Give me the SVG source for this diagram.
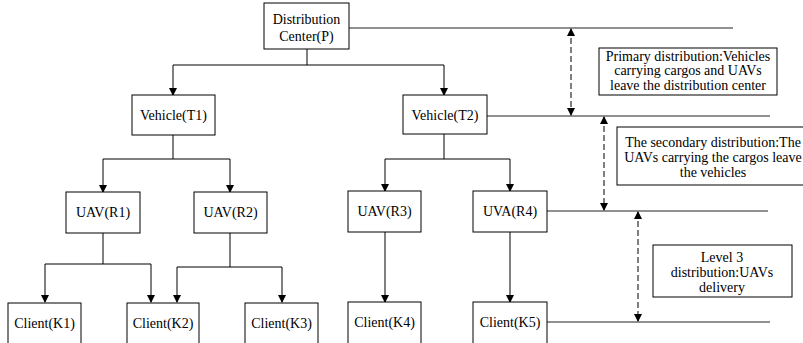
<svg xmlns="http://www.w3.org/2000/svg" width="803" height="343" viewBox="0 0 803 343">
<style>
.box{fill:#fff;stroke:#000;stroke-width:1}
.t{font-family:'Liberation Serif','DejaVu Serif',serif;font-size:14px;fill:#000;text-anchor:middle}
.c{fill:none;stroke:#000;stroke-width:1}
.lv{fill:none;stroke:#222;stroke-width:1}
.d{fill:none;stroke:#000;stroke-width:1;stroke-dasharray:6,3}
</style>
<defs>
<marker id="ah" markerWidth="8" markerHeight="8" refX="7" refY="4" orient="auto" markerUnits="userSpaceOnUse">
<path d="M0,0 L8,4 L0,8 Z" fill="#000"/>
</marker>
<marker id="as" markerWidth="8" markerHeight="8" refX="1" refY="4" orient="auto" markerUnits="userSpaceOnUse">
<path d="M8,0 L0,4 L8,8 Z" fill="#000"/>
</marker>
</defs>
<g id="connectors">
<path class="c" d="M307,49 V65"/>
<path class="c" d="M173,65 H444"/>
<path class="c" d="M173,65 V95" marker-end="url(#ah)"/>
<path class="c" d="M444,65 V95" marker-end="url(#ah)"/>
<path class="c" d="M173,135 V159 M103,159 H230"/>
<path class="c" d="M103,159 V192" marker-end="url(#ah)"/>
<path class="c" d="M230,159 V192" marker-end="url(#ah)"/>
<path class="c" d="M444,134 V159 M385,159 H510"/>
<path class="c" d="M385,159 V191" marker-end="url(#ah)"/>
<path class="c" d="M510,159 V191" marker-end="url(#ah)"/>
<path class="c" d="M103,233 V264 M45,264 H151"/>
<path class="c" d="M45,264 V302" marker-end="url(#ah)"/>
<path class="c" d="M151,264 V302" marker-end="url(#ah)"/>
<path class="c" d="M230,233 V267 M177,267 H282"/>
<path class="c" d="M177,267 V302" marker-end="url(#ah)"/>
<path class="c" d="M282,267 V302" marker-end="url(#ah)"/>
<path class="c" d="M385,232 V302" marker-end="url(#ah)"/>
<path class="c" d="M510,232 V302" marker-end="url(#ah)"/>
<path class="lv" d="M349,28 H733"/>
<path class="lv" d="M487,116 H770"/>
<path class="lv" d="M547,211 H768"/>
<path class="lv" d="M547,322 H770"/>
<path class="d" d="M571,29 V115" marker-start="url(#as)" marker-end="url(#ah)"/>
<path class="d" d="M604,117 V210" marker-start="url(#as)" marker-end="url(#ah)"/>
<path class="d" d="M638,212 V321" marker-start="url(#as)" marker-end="url(#ah)"/>
</g>
<g id="P"><rect class="box" x="264" y="3" width="85" height="46"/><text class="t" x="306.5" y="24">Distribution</text><text class="t" x="306.5" y="41">Center(P)</text></g>
<g id="T1"><rect class="box" x="132" y="95" width="83" height="40"/><text class="t" x="173.5" y="120">Vehicle(T1)</text></g>
<g id="T2"><rect class="box" x="403" y="95" width="84" height="39"/><text class="t" x="445" y="120">Vehicle(T2)</text></g>
<g id="R1"><rect class="box" x="66" y="192" width="74" height="41"/><text class="t" x="103" y="217">UAV(R1)</text></g>
<g id="R2"><rect class="box" x="194" y="192" width="73" height="41"/><text class="t" x="230.5" y="217">UAV(R2)</text></g>
<g id="R3"><rect class="box" x="348" y="191" width="73" height="41"/><text class="t" x="384.5" y="216">UAV(R3)</text></g>
<g id="R4"><rect class="box" x="473" y="191" width="74" height="41"/><text class="t" x="510" y="216">UVA(R4)</text></g>
<g id="K1"><rect class="box" x="8" y="303" width="73" height="45"/><text class="t" x="44.5" y="328">Client(K1)</text></g>
<g id="K2"><rect class="box" x="127" y="303" width="72" height="45"/><text class="t" x="163" y="328">Client(K2)</text></g>
<g id="K3"><rect class="box" x="245" y="303" width="73" height="45"/><text class="t" x="281.5" y="328">Client(K3)</text></g>
<g id="K4"><rect class="box" x="348" y="302" width="73" height="46"/><text class="t" x="384.5" y="327">Client(K4)</text></g>
<g id="K5"><rect class="box" x="473" y="302" width="74" height="46"/><text class="t" x="510" y="327">Client(K5)</text></g>
<g id="L1"><rect class="box" x="599" y="48" width="178" height="47"/><text class="t" x="688" y="61">Primary distribution:Vehicles</text><text class="t" x="688" y="75">carrying cargos and UAVs</text><text class="t" x="688" y="90">leave the distribution center</text></g>
<g id="L2"><rect class="box" x="617" y="127" width="195" height="58"/><text class="t" x="713" y="147">The secondary distribution:The</text><text class="t" x="713" y="162">UAVs carrying the cargos leave</text><text class="t" x="713" y="177">the vehicles</text></g>
<g id="L3"><rect class="box" x="653" y="245" width="139" height="52"/><text class="t" x="722" y="262">Level 3</text><text class="t" x="722" y="277">distribution:UAVs</text><text class="t" x="722" y="292">delivery</text></g>
</svg>
